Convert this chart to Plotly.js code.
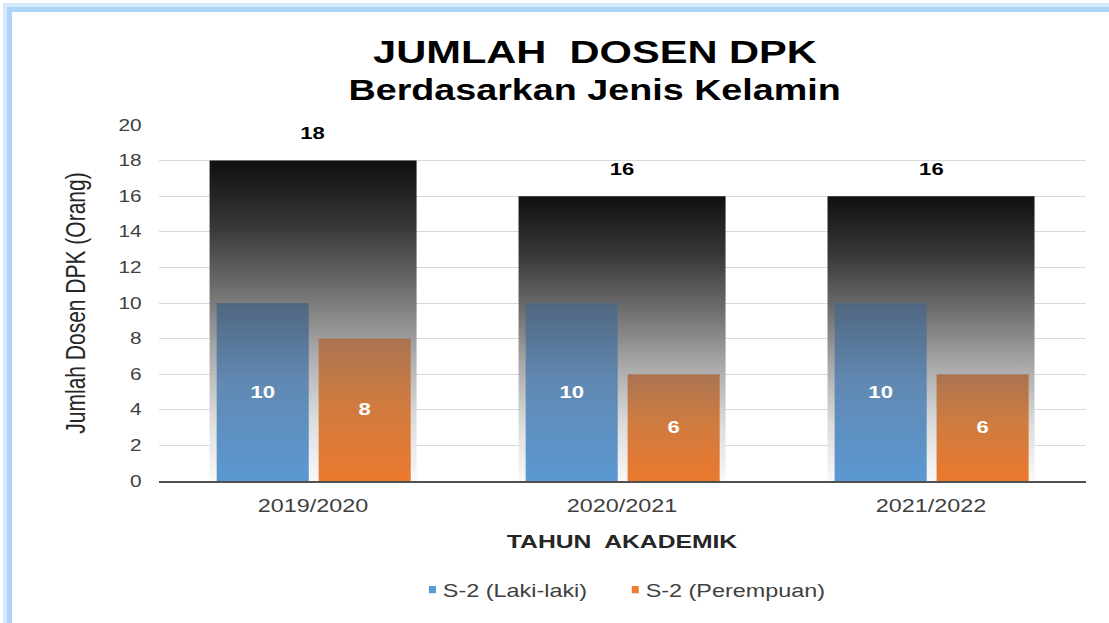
<!DOCTYPE html>
<html>
<head>
<meta charset="utf-8">
<script src="https://cdn.plot.ly/plotly-3.0.1.min.js"></script>
<style>
  html, body { margin: 0; padding: 0; background: #ffffff; overflow: hidden; }
  #frame { position: absolute; left: 3px; top: 3px; width: 1300px; height: 900px;
           border-left: 4px solid #d4e9fc; border-top: 4px solid #d4e9fc; }
  #frame2 { position: absolute; left: 7px; top: 7px; width: 1300px; height: 900px;
           border-left: 5px solid #aed5f8; border-top: 5px solid #aed5f8; }
  #chart { position: absolute; left: 0; top: 0; transform: scaleX(1.3); transform-origin: 0 0; }
</style>
</head>
<body>
<div id="frame"></div>
<div id="frame2"></div>
<div id="chart"></div>
<script>
// ---- data ----
const years = ['2019/2020', '2020/2021', '2021/2022'];
const lakiLaki = [10, 10, 10];
const perempuan = [8, 6, 6];
const total = [18, 16, 16];
const seriesNames = ['S-2 (Laki-laki)', 'S-2 (Perempuan)'];
const titleLine1 = 'JUMLAH&nbsp; DOSEN DPK';
const titleLine2 = 'Berdasarkan Jenis Kelamin';

const S = 1.3;               // horizontal stretch of the reference
const W = Math.round(1109 / S);
const H = 623;
const FAM = 'Liberation Sans, Arial, sans-serif';

const plotL = 158 / S, plotR = 1085 / S;
const plotT = 125, plotB = 481;

const labelFont = {family: FAM, size: 17, color: '#ffffff', weight: 700};

const traces = [
  {
    type: 'bar', x: years, y: total, name: 'Total', showlegend: false,
    width: 0.67, offset: -0.335,
    marker: {color: '#555555', opacity: 0.95},
    hoverinfo: 'skip'
  },
  {
    type: 'bar', x: years, y: lakiLaki, name: seriesNames[0],
    width: 0.298, offset: -0.312,
    marker: {color: '#5b9bd5'},
    text: lakiLaki.map(String), textposition: 'inside', insidetextanchor: 'middle',
    textangle: 0, textfont: labelFont
  },
  {
    type: 'bar', x: years, y: perempuan, name: seriesNames[1],
    width: 0.298, offset: 0.018,
    marker: {color: '#ed7d31'},
    text: perempuan.map(String), textposition: 'inside', insidetextanchor: 'middle',
    textangle: 0, textfont: labelFont
  }
];

const annotations = years.map((yr, i) => ({
  x: yr, y: total[i], xref: 'x', yref: 'y', text: '<b>' + total[i] + '</b>',
  showarrow: false, yanchor: 'middle', yshift: 27,
  font: {family: FAM, size: 17, color: '#000000'}
}));
// second title line
annotations.push({
  xref: 'paper', yref: 'paper',
  x: (594 / S - plotL) / (plotR - plotL), y: (plotB - 90) / (plotB - plotT),
  xanchor: 'center', yanchor: 'middle', showarrow: false,
  text: '<b>' + titleLine2 + '</b>',
  font: {family: FAM, size: 29, color: '#000000'}
});

const tickFont = {family: FAM, size: 16, color: '#404040'};

const layout = {
  width: W, height: H,
  paper_bgcolor: 'rgba(0,0,0,0)', plot_bgcolor: 'rgba(0,0,0,0)',
  margin: {l: plotL, r: W - plotR, t: plotT, b: H - plotB},
  barmode: 'overlay',
  font: {family: FAM},
  title: {
    text: '<b>' + titleLine1 + '</b>',
    font: {family: FAM, size: 32, color: '#000000'},
    x: 595 / 1109, xref: 'container', xanchor: 'center',
    y: 1 - 52 / H, yref: 'container', yanchor: 'middle'
  },
  xaxis: {
    type: 'category', tickfont: {family: FAM, size: 18, color: '#404040'},
    showline: true, linecolor: '#505050', linewidth: 1.5,
    ticks: '', showgrid: false, ticklabelstandoff: 8,
    title: {text: '<b>TAHUN&nbsp; AKADEMIK</b>', font: {family: FAM, size: 19, color: '#262626'}, standoff: 19}
  },
  yaxis: {
    range: [0, 20], dtick: 2, tickfont: tickFont, showgrid: true, gridcolor: '#d9d9d9', gridwidth: 1,
    zeroline: false, showline: false, ticks: '', ticklabelstandoff: 12,
    title: {text: 'Jumlah Dosen DPK (Orang)', font: {family: FAM, size: 21, color: '#262626'}, standoff: 19}
  },
  legend: {
    orientation: 'h', x: 0.489, xanchor: 'center', y: -109 / (plotB - plotT), yanchor: 'middle',
    font: {family: FAM, size: 18, color: '#404040'},
    itemwidth: 30, traceorder: 'normal'
  },
  annotations: annotations,
  showlegend: true
};

function applyGradients(gd) {
  const svg = gd.querySelector('svg.main-svg');
  if (!svg) return;
  const ns = 'http://www.w3.org/2000/svg';
  let defs = svg.querySelector('defs#customdefs');
  if (!defs) {
    defs = document.createElementNS(ns, 'defs');
    defs.setAttribute('id', 'customdefs');
    svg.insertBefore(defs, svg.firstChild);
    const grads = {
      gTot: [[0, '#030303'], [0.2, '#2c2c2c'], [0.4, '#676767'], [0.6, '#a6a6a6'], [0.8, '#d9d9d9'], [1, '#f8f8f8']],
      gBlue: [[0, '#506780'], [0.45, '#6189b3'], [1, '#5b98d2']],
      gOrange: [[0, '#aa7450'], [0.45, '#cf7b40'], [1, '#eb792e']]
    };
    Object.keys(grads).forEach(id => {
      const lg = document.createElementNS(ns, 'linearGradient');
      lg.setAttribute('id', id);
      lg.setAttribute('x1', '0'); lg.setAttribute('y1', '0');
      lg.setAttribute('x2', '0'); lg.setAttribute('y2', '1');
      grads[id].forEach(([o, c]) => {
        const st = document.createElementNS(ns, 'stop');
        st.setAttribute('offset', o);
        st.setAttribute('stop-color', c);
        lg.appendChild(st);
      });
      defs.appendChild(lg);
    });
  }
  const ids = ['gTot', 'gBlue', 'gOrange'];
  gd.querySelectorAll('.barlayer .trace').forEach((tr, i) => {
    tr.querySelectorAll('.point path').forEach(p => {
      p.style.fill = 'url(#' + ids[i] + ')';
    });
  });
  // smaller legend squares, closer to their labels
  gd.querySelectorAll('.legend .traces').forEach(item => {
    item.querySelectorAll('.legendpoints path').forEach(p => {
      p.setAttribute('transform', 'translate(32,0) scale(0.45,0.6)');
    });
  });
}

const gd = document.getElementById('chart');
Plotly.newPlot(gd, traces, layout, {displayModeBar: false, staticPlot: true}).then(() => applyGradients(gd));
</script>
</body>
</html>
